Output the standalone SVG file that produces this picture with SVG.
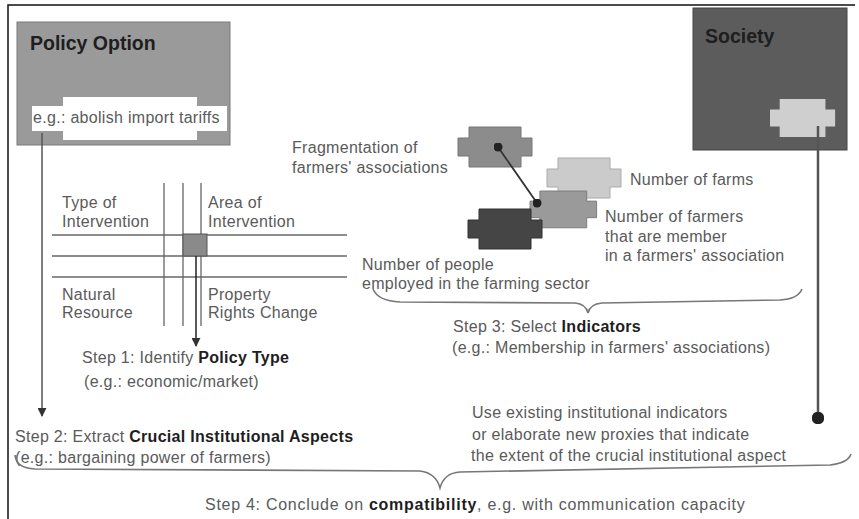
<svg xmlns="http://www.w3.org/2000/svg" width="859" height="519" viewBox="0 0 859 519">
<defs>
<style>
text{font-family:"Liberation Sans",Arial,sans-serif;font-size:16px;letter-spacing:0.3px;fill:#5a5a5a}
.b{font-weight:bold;fill:#1e1e1e}
.h{font-weight:bold;font-size:19.5px;letter-spacing:0;fill:#1e1e1e}
.ln{stroke:#555;stroke-width:1.5;fill:none}
.gl{stroke:#666;stroke-width:1.3;fill:none}
.br{stroke:#777;stroke-width:1.6;fill:none}
</style>
<marker id="ah" viewBox="0 0 10 10" refX="9" refY="5" markerWidth="6" markerHeight="6" orient="auto"><path d="M0,0 L10,5 L0,10 z" fill="#333"/></marker>
<marker id="dot" viewBox="0 0 10 10" refX="5" refY="5" markerWidth="5" markerHeight="5"><circle cx="5" cy="5" r="5" fill="#222"/></marker>
<path id="pz" d="M11,0 H63 V11 H74 V29 H63 V40 H11 V29 H0 V11 H11 Z"/>
</defs>
<rect width="859" height="519" fill="#fff"/>
<path d="M8,519 V5 H855" stroke="#111" stroke-width="1.5" fill="none"/>

<g id="policy-option">
<rect x="17" y="22" width="213" height="123" fill="#9a9a9a" stroke="#7a7a7a"/>
<text x="30" y="50" class="h">Policy Option</text>
<path d="M63,97 H197 V106 H227 V131 H197 V140 H63 V131 H32 V106 H63 Z" fill="#fff"/>
<text x="33" y="123">e.g.: abolish import tariffs</text>
</g>

<g id="society">
<rect x="693" y="8" width="154" height="142" fill="#5c5c5c" stroke="#444"/>
<text x="705" y="43" class="h">Society</text>
<use href="#pz" transform="translate(770,99) scale(0.88,0.95)" fill="#cfcfcf"/>
</g>

<g id="grid">
<line x1="164" y1="183" x2="164" y2="326" class="gl"/>
<line x1="183" y1="183" x2="183" y2="326" class="gl"/>
<line x1="201" y1="183" x2="201" y2="326" class="gl"/>
<line x1="52" y1="235" x2="347" y2="235" class="gl"/>
<line x1="52" y1="256" x2="347" y2="256" class="gl"/>
<line x1="52" y1="277" x2="347" y2="277" class="gl"/>
<rect x="183" y="234" width="24" height="22" fill="#8a8a8a" stroke="#555"/>
<text x="62" y="208">Type of</text>
<text x="62" y="227">Intervention</text>
<text x="208" y="208">Area of</text>
<text x="208" y="227">Intervention</text>
<text x="62" y="300">Natural</text>
<text x="62" y="318">Resource</text>
<text x="208" y="300">Property</text>
<text x="208" y="318">Rights Change</text>
</g>

<g id="indicators">
<use href="#pz" x="458" y="127" fill="#8c8c8c" stroke="#777"/>
<use href="#pz" x="547" y="158" fill="#cbcbcb" stroke="#aaa"/>
<use href="#pz" transform="translate(530,191) scale(0.9,0.92)" fill="#9a9a9a" stroke="#777"/>
<use href="#pz" x="468" y="209" fill="#454545" stroke="#333"/>
<text x="292" y="153">Fragmentation of</text>
<text x="292" y="173">farmers' associations</text>
<text x="630" y="185">Number of farms</text>
<text x="605" y="222">Number of farmers</text>
<text x="605" y="242">that are member</text>
<text x="605" y="261">in a farmers' association</text>
<text x="362" y="270">Number of people</text>
<text x="362" y="289">employed in the farming sector</text>
</g>

<g id="step1">
<text x="82" y="363">Step 1: Identify <tspan class="b">Policy Type</tspan></text>
<text x="84" y="387">(e.g.: economic/market)</text>
</g>

<g id="step3">
<text x="453" y="332">Step 3: Select <tspan class="b">Indicators</tspan></text>
<text x="452" y="353">(e.g.: Membership in farmers' associations)</text>
</g>

<g id="proxies">
<text x="472" y="418">Use existing institutional indicators</text>
<text x="472" y="440">or elaborate new proxies that indicate</text>
<text x="471" y="461">the extent of the crucial institutional aspect</text>
</g>

<g id="step2">
<text x="15" y="442">Step 2:  Extract <tspan class="b">Crucial Institutional Aspects</tspan></text>
<text x="15" y="463">(e.g.: bargaining power of  farmers)</text>
</g>

<g id="step4">
<text x="205" y="510" textLength="540" lengthAdjust="spacing">Step 4:   Conclude on <tspan class="b">compatibility</tspan>, e.g. with communication capacity</text>
</g>

<g id="connectors">
<line x1="42" y1="133" x2="42" y2="416" class="ln" marker-end="url(#ah)"/>
<line x1="818" y1="126" x2="818" y2="418" stroke="#555" stroke-width="2.5" marker-end="url(#dot)"/>
<line x1="196" y1="256" x2="196" y2="346" stroke="#222" stroke-width="1.5" marker-end="url(#ah)"/>
<line x1="498" y1="147" x2="537" y2="203" stroke="#333" stroke-width="1.8" marker-start="url(#dot)" marker-end="url(#dot)"/>
<path d="M373,289 Q378,301 400,302 L575,303 Q586,304 588,313 Q590,304 602,303 L780,300 Q798,299 802,289" class="br"/>
<path d="M15,455 Q16,468 35,469 L420,471 Q436,473 440,488 Q444,473 460,472 L830,465 Q848,463 851,454" class="br"/>
</g>
</svg>
